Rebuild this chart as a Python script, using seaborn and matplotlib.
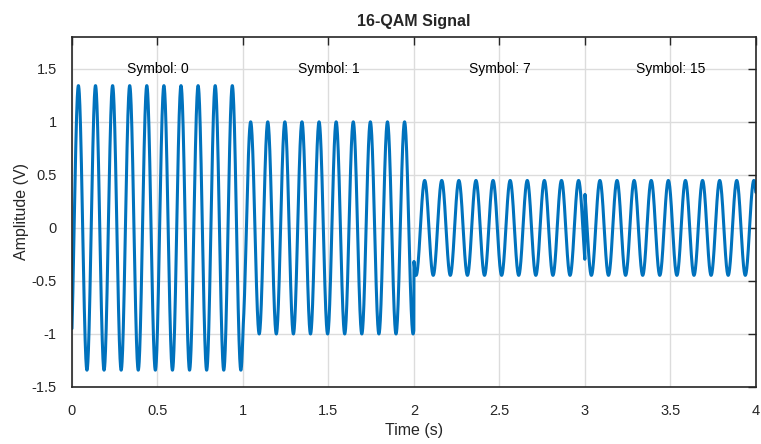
import numpy as np
import pandas as pd
import matplotlib
matplotlib.use("Agg")
import matplotlib.pyplot as plt
import seaborn as sns

# Data: transmitted 16-QAM symbols and their constellation points (I, Q)
symbols = [0, 1, 7, 15]
i_comp = [-3, -3, -1, 1]
q_comp = [3, 1, -1, -1]
norm = np.sqrt(10)          # average-power normalisation
carrier_hz = 10             # carrier frequency
symbol_period = 1.0         # seconds per symbol
fs = 1000                   # samples per second

x_ticks = [0, 0.5, 1, 1.5, 2, 2.5, 3, 3.5, 4]
y_ticks = [-1.5, -1, -0.5, 0, 0.5, 1, 1.5]

# Build waveform from the symbol table
t_all, s_all = [], []
for k, (ii, qq) in enumerate(zip(i_comp, q_comp)):
    tl = np.arange(0, symbol_period, 1 / fs)
    w = 2 * np.pi * carrier_hz * tl
    t_all.append(k * symbol_period + tl)
    s_all.append((ii * np.cos(w) + qq * np.sin(w)) / norm)
df = pd.DataFrame({"t": np.concatenate(t_all), "s": np.concatenate(s_all)})

sns.set_style("white")
plt.rcParams["font.family"] = ["Liberation Sans", "DejaVu Sans"]

fig = plt.figure(figsize=(7.61, 4.44), dpi=100)
ax = fig.add_axes([0.0946, 0.1284, 0.8988, 0.7883])

sns.lineplot(data=df, x="t", y="s", ax=ax, color="#0072BD", linewidth=2.2,
             estimator=None, sort=False)

ax.set_xlim(0, 4)
ax.set_ylim(-1.5, 1.8)
ax.set_xticks(x_ticks)
ax.set_xticklabels([f"{v:g}" for v in x_ticks])
ax.set_yticks(y_ticks)
ax.set_yticklabels([f"{v:g}" for v in y_ticks])
ax.grid(True, color="#dcdcdc", linewidth=1.0)
ax.set_axisbelow(True)

for sp in ax.spines.values():
    sp.set_visible(True)
    sp.set_color("#262626")
    sp.set_linewidth(1.2)

ax.tick_params(axis="both", which="both", direction="in", length=6, width=1.0,
               top=True, right=True, labelsize=10.5, colors="#262626")
ax.tick_params(axis="x", pad=12)
ax.tick_params(axis="y", pad=11)

for k, sym in enumerate(symbols):
    ax.text(k * symbol_period + symbol_period / 2, 1.5, f"Symbol: {sym}",
            ha="center", va="center", fontsize=10, color="black")

ax.set_xlabel("Time (s)", fontsize=11.5, color="#262626", labelpad=4)
ax.set_ylabel("Amplitude (V)", fontsize=11.5, color="#262626", labelpad=2)
ax.set_title("16-QAM Signal", fontsize=11.5, fontweight="bold", pad=8)

fig.savefig("out.png", dpi=100)
